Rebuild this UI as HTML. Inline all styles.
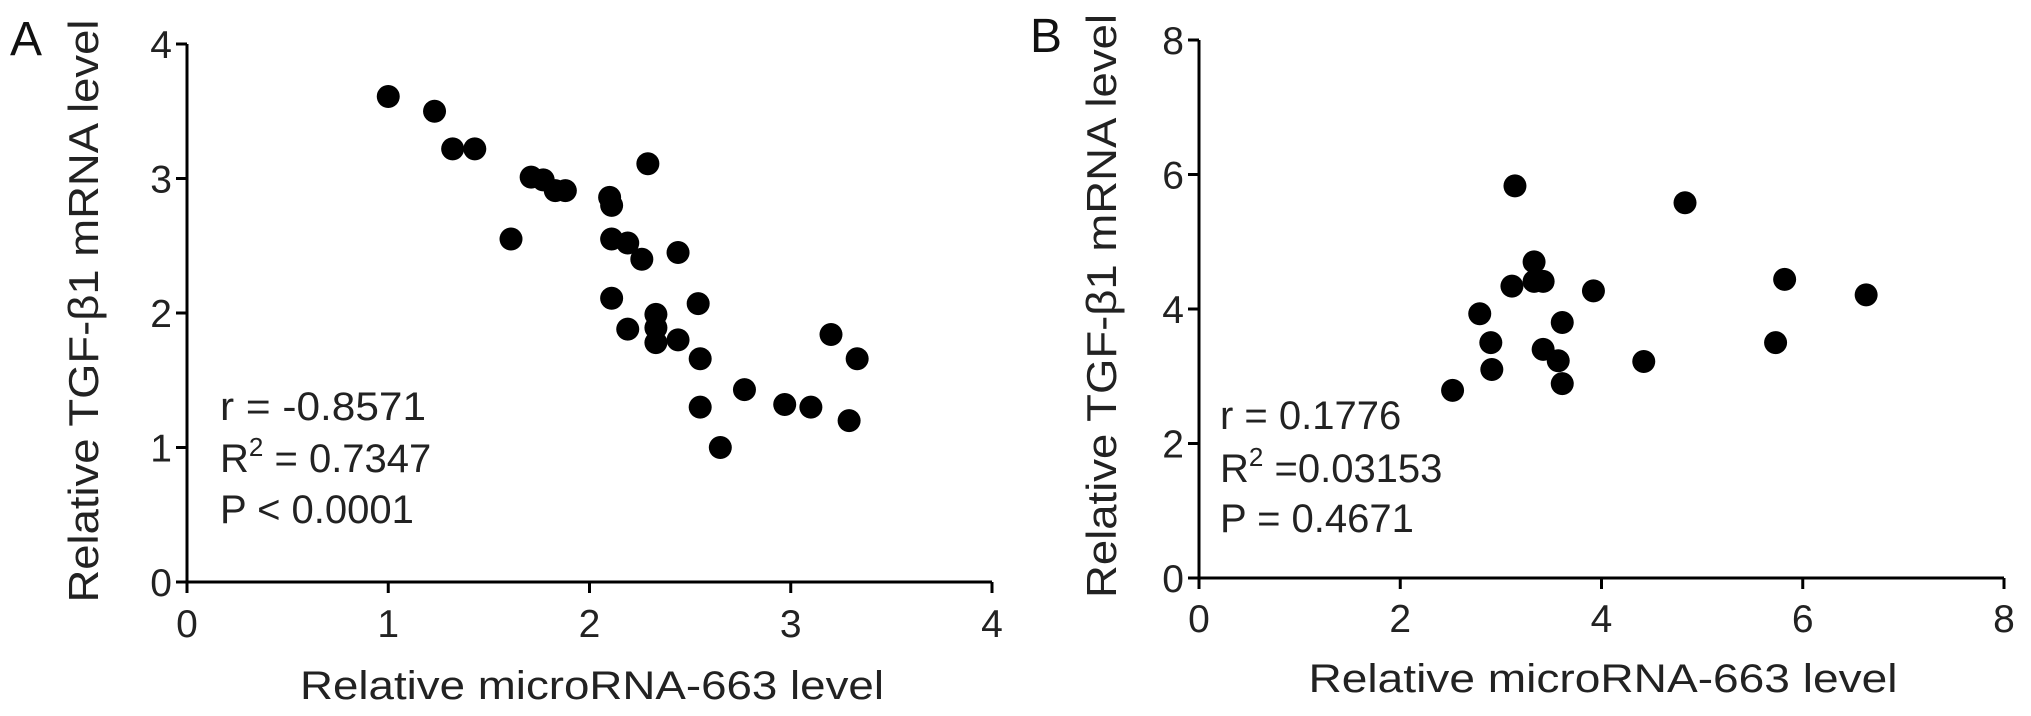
<!DOCTYPE html>
<html><head><meta charset="utf-8"><style>
html,body{margin:0;padding:0;background:#fff;}
svg{display:block;font-family:"Liberation Sans",Arial,sans-serif;}
</style></head><body>
<svg id="fig" width="2031" height="716" viewBox="0 0 2031 716"></svg>
<script>
// Panel A data
const aX = [1.0,1.23,1.32,1.43,1.61,1.71,1.77,1.83,1.88,2.10,2.11,2.11,2.19,2.26,2.29,2.44,2.11,2.19,2.33,2.33,2.33,2.44,2.54,2.55,2.55,2.77,2.65,2.97,3.10,3.20,3.29,3.33];
const aY = [3.61,3.50,3.22,3.22,2.55,3.01,2.99,2.91,2.91,2.86,2.80,2.55,2.52,2.40,3.11,2.45,2.11,1.88,1.99,1.89,1.78,1.80,2.07,1.66,1.30,1.43,1.00,1.32,1.30,1.84,1.20,1.66];
const aXTicks = [0,1,2,3,4];
const aYTicks = [0,1,2,3,4];
// Panel B data
const bX = [3.14,4.83,3.33,3.11,3.33,3.42,3.92,5.82,6.63,2.79,3.61,2.90,3.42,3.57,2.91,3.61,2.52,4.42,5.73];
const bY = [5.83,5.58,4.70,4.34,4.41,4.41,4.27,4.44,4.21,3.93,3.80,3.50,3.40,3.23,3.10,2.89,2.79,3.22,3.50];
const bXTicks = [0,2,4,6,8];
const bYTicks = [0,2,4,6,8];

const NS = "http://www.w3.org/2000/svg";
const svg = document.getElementById('fig');
function mk(tag, attrs, parent){
  const e = document.createElementNS(NS, tag);
  for (const k in attrs) e.setAttribute(k, attrs[k]);
  (parent||svg).appendChild(e);
  return e;
}
function panel(p){
  const g = mk('g', {});
  
  
  const sx = v => p.x0 + (v - p.xmin) / (p.xmax - p.xmin) * (p.x1 - p.x0);
  const sy = v => p.y0 - (v - p.ymin) / (p.ymax - p.ymin) * (p.y0 - p.y1);
  const yax = mk('line', {x1:p.x0, y1:p.y0+1, x2:p.x0, y2:p.y1, stroke:'#000', 'stroke-width':3}, g);
  
  
  const xax = mk('line', {x1:p.x0-1, y1:p.y0, x2:p.x1, y2:p.y0, stroke:'#000', 'stroke-width':3}, g);
  
  
  p.xt.forEach(v => {
    const x = sx(v);
    const t = mk('line', {x1:x, y1:p.y0, x2:x, y2:p.y0+11, stroke:'#000', 'stroke-width':3}, g);
    
    
    const l = mk('text', {x:x, y:p.xLabY, 'text-anchor':'middle', 'font-size':39, fill:'#222'}, g);
    l.textContent = v;
    
    
  });
  p.yt.forEach(v => {
    const y = sy(v);
    const t = mk('line', {x1:p.x0-11, y1:y, x2:p.x0, y2:y, stroke:'#000', 'stroke-width':3}, g);
    
    
    const l = mk('text', {x:p.x0-15, y:y+14, 'text-anchor':'end', 'font-size':39, fill:'#222'}, g);
    l.textContent = v;
    
    
  });
  p.xs.forEach((v, i) => {
    const c = mk('circle', {cx:sx(v), cy:sy(p.ys[i]), r:11.5, fill:'#000'}, g);
    
    
  });
}
panel({name:'panel-a-chart', x0:187, x1:992, y0:582, y1:44, xmin:0, xmax:4, ymin:0, ymax:4, xt:aXTicks, yt:aYTicks, xs:aX, ys:aY, xLabY:637});
panel({name:'panel-b-chart', x0:1199, x1:2004, y0:578, y1:40, xmin:0, xmax:8, ymin:0, ymax:8, xt:bXTicks, yt:bYTicks, xs:bX, ys:bY, xLabY:632});
</script>
<script>
const T = document.getElementById('fig');
function txt(x,y,s,attrs,name){
  const e = document.createElementNS("http://www.w3.org/2000/svg",'text');
  e.setAttribute('x',x); e.setAttribute('y',y);
  for (const k in attrs) e.setAttribute(k, attrs[k]);
  e.innerHTML = s;
  
  
  T.appendChild(e);
  return e;
}
const base = {'font-size':40, fill:'#222'};
txt(10,55,'A',{'font-size':48,fill:'#111'},'panel-a-label');
txt(1030,52,'B',{'font-size':48,fill:'#111'},'panel-b-label');
// Panel A texts
txt(592,699,'Relative microRNA-663 level',{'font-size':40,fill:'#222','text-anchor':'middle',textLength:584,lengthAdjust:'spacingAndGlyphs'},'x-axis-title-a');
txt(0,0,'Relative TGF-β1 mRNA level',{'font-size':42,fill:'#222','text-anchor':'middle',transform:'translate(98,311) rotate(-90)',textLength:583,lengthAdjust:'spacingAndGlyphs'},'y-axis-title-a');
txt(220,420,'r = -0.8571',Object.assign({},base,{textLength:206,lengthAdjust:'spacingAndGlyphs'}),'stat-r-a');
txt(220,472,'R<tspan dy="-16" font-size="26">2</tspan><tspan dy="16"> = 0.7347</tspan>',base,'stat-r2-a');
txt(220,523,'P &lt; 0.0001',base,'stat-p-a');
// Panel B texts
txt(1603,692,'Relative microRNA-663 level',{'font-size':40,fill:'#222','text-anchor':'middle',textLength:589,lengthAdjust:'spacingAndGlyphs'},'x-axis-title-b');
txt(0,0,'Relative TGF-β1 mRNA level',{'font-size':42,fill:'#222','text-anchor':'middle',transform:'translate(1116,306) rotate(-90)',textLength:584,lengthAdjust:'spacingAndGlyphs'},'y-axis-title-b');
txt(1220,429,'r = 0.1776',base,'stat-r-b');
txt(1220,482,'R<tspan dy="-16" font-size="26">2</tspan><tspan dy="16"> =0.03153</tspan>',base,'stat-r2-b');
txt(1220,532,'P = 0.4671',base,'stat-p-b');
</script>
</body></html>
